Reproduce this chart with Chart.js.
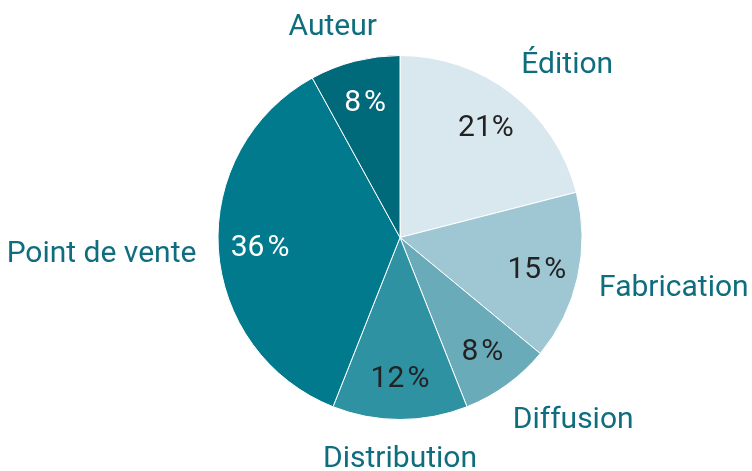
<!DOCTYPE html>
<html><head><meta charset="utf-8">
<script src="https://cdn.jsdelivr.net/npm/chart.js@4/dist/chart.umd.min.js"></script>
<style>html,body{margin:0;padding:0;background:#fff}#wrap{width:752px;height:471px;position:relative}</style>
</head><body><div id="wrap"><canvas id="c" width="752" height="471"></canvas></div>
<script>
const categories = ["Édition", "Fabrication", "Diffusion", "Distribution", "Point de vente", "Auteur"];
const shares = [21, 15, 8, 12, 36, 8];
const percentLabels = ["21%", "15\u200A%", "8\u200A%", "12\u200A%", "36\u200A%", "8\u200A%"];
const sliceColors = ["#d9e8ee", "#9fc7d3", "#6aabba", "#2e92a2", "#007a8c", "#006a7a"];
const percentColors = ["#222222", "#222222", "#222222", "#222222", "#ffffff", "#ffffff"];

const FONT = "Roboto, 'Liberation Sans', sans-serif";
const clamp = v => Math.max(-1, Math.min(1, v));
const labelPlugin = {
  id: 'pieLabels',
  afterDatasetsDraw(chart) {
    const ctx = chart.ctx;
    const meta = chart.getDatasetMeta(0);
    meta.data.forEach((arc, i) => {
      const p = arc.getProps(['x','y','startAngle','endAngle','outerRadius'], true);
      const mid = (p.startAngle + p.endAngle) / 2;
      const cx = Math.cos(mid), cy = Math.sin(mid);
      ctx.save();
      // inner percentage
      ctx.font = "30px " + FONT;
      ctx.fillStyle = percentColors[i];
      ctx.textAlign = 'center';
      ctx.textBaseline = 'middle';
      const ri = p.outerRadius * 0.77;
      ctx.fillText(percentLabels[i], p.x + cx * ri, p.y + cy * ri + 2);
      // outside category, anchored around the slice direction
      ctx.fillStyle = "#0f6e7e";
      const ro = p.outerRadius + 22;
      const ox = p.x + cx * ro, oy = p.y + cy * ro;
      const w = ctx.measureText(categories[i]).width;
      const h = 30;
      ctx.fillText(categories[i], ox + w * clamp(cx * 1.5) / 2, oy + h * clamp(cy * 1.2) / 2 + 3);
      ctx.restore();
    });
  }
};

new Chart(document.getElementById('c'), {
  type: 'pie',
  data: {
    labels: categories,
    datasets: [{
      data: shares,
      backgroundColor: sliceColors,
      borderColor: '#ffffff',
      borderWidth: 1
    }]
  },
  options: {
    responsive: false,
    animation: false,
    layout: { padding: { left: 200, right: 152, top: 55, bottom: 51 } },
    plugins: { legend: { display: false }, tooltip: { enabled: false } }
  },
  plugins: [labelPlugin]
});
</script></body></html>
